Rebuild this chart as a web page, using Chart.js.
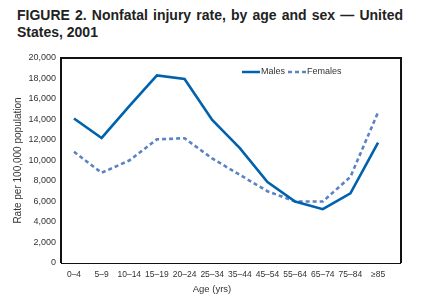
<!DOCTYPE html>
<html>
<head>
<meta charset="utf-8">
<script src="https://cdn.jsdelivr.net/npm/chart.js@4"></script>
<style>
  body { margin: 0; width: 441px; height: 308px; background: #fff; position: relative; overflow: hidden; }
  #title {
    position: absolute; left: 17px; top: 7px; width: 386px;
    font: bold 14px "Liberation Sans", Arial, sans-serif; color: #222;
    line-height: 17px; text-align: justify;
  }
  #wrap { position: absolute; left: 0; top: 40px; width: 441px; height: 268px; }
</style>
</head>
<body>
<div id="title">FIGURE 2. Nonfatal injury rate, by age and sex — United States, 2001</div>
<div id="wrap"><canvas id="myChart"></canvas></div>
<script>
const ageGroups = ["0–4", "5–9", "10–14", "15–19", "20–24", "25–34", "35–44", "45–54", "55–64", "65–74", "75–84", "≥85"];
const males = [14100, 12200, 15300, 18300, 17950, 13950, 11200, 7900, 6000, 5250, 6800, 11750];
const females = [10850, 8800, 10000, 12070, 12170, 10200, 8600, 7000, 6000, 6000, 8400, 14700];
const yTicks = [0, 2000, 4000, 6000, 8000, 10000, 12000, 14000, 16000, 18000, 20000];

const font = "Liberation Sans";

// legend + axis title drawn by hand, to sit where the original has them
const extras = {
  id: "extras",
  afterDraw(chart) {
    const c = chart.ctx;
    const a = chart.chartArea;
    c.save();
    // box frame
    c.strokeStyle = "#111";
    c.lineWidth = 2;
    c.beginPath();
    c.moveTo(a.left, a.bottom);
    c.lineTo(a.left, a.top);
    c.lineTo(a.right, a.top);
    c.lineTo(a.right, a.bottom);
    c.stroke();
    c.lineWidth = 1.2;
    c.beginPath();
    c.moveTo(a.left, a.bottom + 0.5);
    c.lineTo(a.right, a.bottom + 0.5);
    c.stroke();

    // legend
    const items = [
      { x: 242, ds: chart.data.datasets[0] },
      { x: 288, ds: chart.data.datasets[1] },
    ];
    const ly = 32;
    c.font = "9px " + font;
    c.textBaseline = "middle";
    items.forEach((it) => {
      c.strokeStyle = it.ds.borderColor;
      c.lineWidth = 2.5;
      c.setLineDash(it.ds.borderDash || []);
      c.beginPath();
      c.moveTo(it.x, ly);
      c.lineTo(it.x + 18, ly);
      c.stroke();
      c.setLineDash([]);
      c.fillStyle = "#333";
      c.fillText(it.ds.label, it.x + 19, ly);
    });

    // x title
    c.font = "9.5px " + font;
    c.textAlign = "center";
    c.fillText("Age (yrs)", 212, 249);
    c.restore();
  },
};

const ctx = document.getElementById("myChart").getContext("2d");
const myChart = new Chart(ctx, {
  type: "line",
  data: {
    datasets: [
      {
        label: "Males",
        data: males.map((v, i) => ({ x: i, y: v })),
        borderColor: "#0062ad",
        borderWidth: 2.6,
        pointRadius: 0,
        tension: 0,
      },
      {
        label: "Females",
        data: females.map((v, i) => ({ x: i, y: v })),
        borderColor: "#5b83c4",
        borderWidth: 2.6,
        borderDash: [4, 3],
        pointRadius: 0,
        tension: 0,
      },
    ],
  },
  options: {
    responsive: true,
    maintainAspectRatio: false,
    animation: false,
    layout: { padding: { top: 18, right: 40, left: 0, bottom: 0 } },
    plugins: {
      legend: { display: false },
      tooltip: { enabled: false },
    },
    scales: {
      x: {
        type: "linear",
        min: -0.47,
        max: 11.83,
        grid: { display: false, drawOnChartArea: false, drawTicks: true, tickLength: 4, color: "#111" },
        border: { display: false },
        ticks: {
          stepSize: 1,
          includeBounds: false,
          autoSkip: false,
          maxRotation: 0,
          padding: 3,
          color: "#333",
          font: { family: font, size: 8.5 },
          callback: (v) => (Number.isInteger(v) ? ageGroups[v] : ""),
        },
        afterFit: (s) => { s.height = 45; },
      },
      y: {
        min: 0,
        max: 20000,
        grid: { display: false, drawTicks: true, tickLength: 3, color: "#111" },
        border: { display: false },
        afterBuildTicks: (s) => { s.ticks = yTicks.map((v) => ({ value: v })); },
        ticks: {
          padding: 2,
          color: "#333",
          font: { family: font, size: 9 },
          callback: (v) => v.toLocaleString("en-US"),
        },
        title: {
          display: true,
          text: "Rate per 100,000 population",
          color: "#333",
          font: { family: font, size: 10 },
          padding: { top: 12, bottom: 4 },
        },
        afterFit: (s) => { s.width = 61; },
      },
    },
  },
  plugins: [extras],
});
</script>
</body>
</html>
